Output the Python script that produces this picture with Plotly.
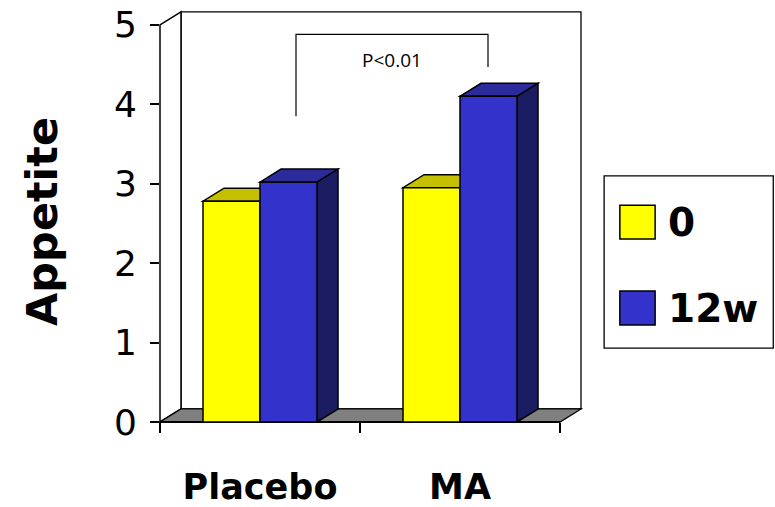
import plotly.graph_objects as go

# ---- data ----
categories = ["Placebo", "MA"]
series_names = ["0", "12w"]
values_0 = [2.78, 2.95]
values_12w = [3.02, 4.10]
y_ticks = [0, 1, 2, 3, 4, 5]
p_label = "P<0.01"
y_title = "Appetite"

# ---- style ----
front_colors = ["#FFFF00", "#3333CC"]
top_colors = ["#C4C000", "#2B2B9C"]
side_colors = ["#A0A000", "#1C1C62"]
BAR_W = 0.285
DX, DY = 0.105, 0.164           # pseudo-3D depth offset in data units
XR = [-0.5, 1.625]
YR = [0, 5.2]
FONT_C = "DejaVu Sans"

def xp(v):
    return (v - XR[0]) / (XR[1] - XR[0])

def yp(v):
    return (v - YR[0]) / (YR[1] - YR[0])

xpos = list(range(len(categories)))
series = [values_0, values_12w]

fig = go.Figure()
for i, (name, vals) in enumerate(zip(series_names, series)):
    fig.add_trace(go.Bar(
        x=xpos, y=vals, name=name, width=BAR_W, offset=-BAR_W + i * BAR_W,
        marker=dict(color=front_colors[i], line=dict(color="black", width=1.5)),
        showlegend=False, hoverinfo="skip",
    ))

shapes = []
# back wall
shapes.append(dict(type="rect", xref="paper", yref="paper", layer="below",
                   x0=xp(XR[0] + DX), x1=xp(1.5 + DX), y0=yp(DY), y1=yp(5 + DY),
                   fillcolor="white", line=dict(color="black", width=1.3)))
# left wall
shapes.append(dict(type="path", xref="paper", yref="paper", layer="below",
                   path=f"M{xp(-0.5)},{yp(0)} L{xp(-0.5)},{yp(5)} L{xp(-0.5+DX)},{yp(5+DY)} L{xp(-0.5+DX)},{yp(DY)} Z",
                   fillcolor="white", line=dict(color="black", width=1.5)))
# floor
shapes.append(dict(type="path", xref="paper", yref="paper", layer="below",
                   path=f"M{xp(-0.5)},{yp(0)} L{xp(1.5)},{yp(0)} L{xp(1.5+DX)},{yp(DY)} L{xp(-0.5+DX)},{yp(DY)} Z",
                   fillcolor="#808080", line=dict(color="black", width=1.3)))
# front x axis line
shapes.append(dict(type="line", xref="paper", yref="paper", layer="below",
                   x0=xp(-0.5), x1=xp(1.5), y0=yp(0), y1=yp(0),
                   line=dict(color="black", width=2)))

# bar tops and sides
for i, vals in enumerate(series):
    for c, h in zip(xpos, vals):
        x0 = c - BAR_W + i * BAR_W
        x1 = x0 + BAR_W
        shapes.append(dict(type="path", xref="x", yref="y", layer="below",
                           path=f"M{x0},{h} L{x1},{h} L{x1+DX},{h+DY} L{x0+DX},{h+DY} Z",
                           fillcolor=top_colors[i], line=dict(color="black", width=1.5)))
        shapes.append(dict(type="path", xref="x", yref="y", layer="below",
                           path=f"M{x1},0 L{x1+DX},{DY} L{x1+DX},{h+DY} L{x1},{h} Z",
                           fillcolor=side_colors[i], line=dict(color="black", width=1.5)))

# significance bracket
BX = [0.18, 1.14]
BY = [3.85, 4.88, 4.47]
shapes.append(dict(type="path", xref="x", yref="y",
                   path=f"M{BX[0]},{BY[0]} L{BX[0]},{BY[1]} L{BX[1]},{BY[1]} L{BX[1]},{BY[2]}",
                   line=dict(color="black", width=1.2)))

# legend (manual, large swatches)
LEG = dict(x0=1.045, x1=1.443, y0=0.179, y1=0.596)
shapes.append(dict(type="rect", xref="paper", yref="paper", **LEG,
                   fillcolor="white", line=dict(color="black", width=1.3)))
sw_y = [(0.443, 0.525), (0.235, 0.317)]
annotations = []
for i, name in enumerate(series_names):
    shapes.append(dict(type="rect", xref="paper", yref="paper",
                       x0=1.082, x1=1.165, y0=sw_y[i][0], y1=sw_y[i][1],
                       fillcolor=front_colors[i], line=dict(color="black", width=1.5)))
    annotations.append(dict(xref="paper", yref="paper", x=1.19, y=(sw_y[i][0] + sw_y[i][1]) / 2,
                            xanchor="left", yanchor="middle", showarrow=False, text=name,
                            font=dict(family=FONT_C, size=39, color="black", weight="bold")))

annotations.append(dict(xref="x", yref="y", x=(BX[0] + BX[1]) / 2, y=4.56, text=p_label,
                        showarrow=False, font=dict(family="Open Sans", size=19, color="black")))
annotations.append(dict(xref="paper", yref="paper", x=(42 - 160) / 425, y=yp((422 - 222) / 79.4),
                        text=y_title, textangle=-90, showarrow=False,
                        xanchor="center", yanchor="middle",
                        font=dict(family=FONT_C, size=43, color="black", weight="bold")))

fig.update_layout(
    width=775, height=507,
    margin=dict(l=160, r=190, t=9, b=85),
    paper_bgcolor="white", plot_bgcolor="rgba(0,0,0,0)",
    barmode="overlay",
    shapes=shapes, annotations=annotations,
    showlegend=False,
    xaxis=dict(range=XR, tickvals=xpos, ticktext=categories, ticks="",
               showline=False, showgrid=False, zeroline=False, automargin=False,
               tickfont=dict(family=FONT_C, size=35, color="black", weight="bold"),
               ticklabelstandoff=41,
               minor=dict(tickvals=[-0.5, 0.5, 1.5], ticks="outside", ticklen=10,
                          tickcolor="black", tickwidth=1.5, showgrid=False)),
    yaxis=dict(range=YR, tickvals=y_ticks, ticks="outside", ticklen=9, tickwidth=1.5,
               tickcolor="black", showline=False, showgrid=False, zeroline=False,
               automargin=False,
               tickfont=dict(family=FONT_C, size=36, color="black"),
               ticklabelstandoff=6),
)

fig.write_html("out.html", config={"displayModeBar": False},
               post_script="document.body.style.margin='0';")
